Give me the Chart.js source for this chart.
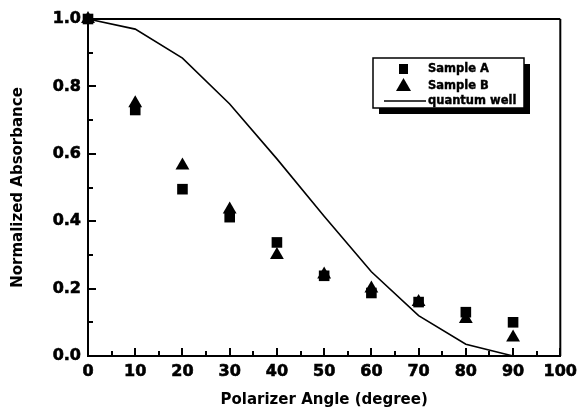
<!DOCTYPE html>
<html>
<head>
<meta charset="utf-8">
<script src="https://cdn.jsdelivr.net/npm/chart.js@4.4.1/dist/chart.umd.min.js"></script>
<style>
html,body{margin:0;padding:0;background:#fff;}
#wrap{width:583px;height:413px;}
</style>
</head>
<body>
<div id="wrap"><canvas id="c" width="583" height="413"></canvas></div>
<script>
// ---- data ----
const angles = [0, 10, 20, 30, 40, 50, 60, 70, 80, 90];
const sampleA = [1.0, 0.73, 0.495, 0.412, 0.337, 0.238, 0.187, 0.16, 0.13, 0.10];
const sampleB = [1.0, 0.75, 0.565, 0.435, 0.30, 0.242, 0.20, 0.16, 0.11, 0.055];
const qwAngles = [0, 10, 20, 30, 40, 50, 60, 70, 80, 90];
const qwValues = [1.0, 0.97, 0.884, 0.748, 0.585, 0.415, 0.25, 0.12, 0.035, 0.0];
const seriesNames = ['Sample A', 'Sample B', 'quantum well'];
const xTitle = 'Polarizer Angle (degree)';
const yTitle = 'Normalized Absorbance';

const FONT = '"DejaVu Sans", sans-serif';

function pts(xs, ys) { return xs.map((x, i) => ({x: x, y: ys[i]})); }

const framePlugin = {
  id: 'frame',
  afterDatasetsDraw(chart) {
    const ctx = chart.ctx;
    const a = chart.chartArea;
    const xs = chart.scales.x, ys = chart.scales.y;
    ctx.save();
    ctx.strokeStyle = '#000';
    ctx.lineWidth = 2;
    ctx.beginPath();
    ctx.moveTo(a.left, a.top); ctx.lineTo(a.right, a.top);
    ctx.moveTo(a.right, a.top); ctx.lineTo(a.right, a.bottom);
    ctx.stroke();
    ctx.beginPath();
    for (let v = 0; v <= 100; v += 5) {
      const px = Math.round(xs.getPixelForValue(v));
      const len = (v % 10 === 0) ? 8 : 5;
      ctx.moveTo(px, a.bottom); ctx.lineTo(px, a.bottom - len);
    }
    for (let k = 0; k <= 10; k++) {
      const py = Math.round(ys.getPixelForValue(k / 10));
      const len = (k % 2 === 0) ? 8 : 5;
      ctx.moveTo(a.left, py); ctx.lineTo(a.left + len, py);
    }
    ctx.stroke();

    // legend box with shadow
    const bx = 373, by = 58, bw = 151, bh = 50;
    ctx.fillStyle = '#000';
    ctx.fillRect(bx + 6, by + 6, bw, bh);
    ctx.fillStyle = '#fff';
    ctx.fillRect(bx, by, bw, bh);
    ctx.lineWidth = 1.5;
    ctx.strokeRect(bx, by, bw, bh);
    ctx.fillStyle = '#000';
    ctx.fillRect(399, 64, 9, 10);
    ctx.beginPath();
    ctx.moveTo(403.5, 78); ctx.lineTo(411, 91); ctx.lineTo(396, 91); ctx.closePath();
    ctx.fill();
    ctx.lineWidth = 1.5;
    ctx.beginPath();
    ctx.moveTo(384, 101); ctx.lineTo(426, 101); ctx.stroke();
    ctx.font = 'bold 11.5px ' + FONT;
    ctx.textBaseline = 'middle';
    ctx.textAlign = 'left';
    ctx.lineWidth = 0.4;
    const items = [[seriesNames[0], 69], [seriesNames[1], 86], [seriesNames[2], 101]];
    for (const [t, y] of items) { ctx.fillText(t, 428, y); ctx.strokeText(t, 428, y); }
    ctx.restore();
  }
};

new Chart(document.getElementById('c'), {
  type: 'scatter',
  data: {
    datasets: [
      {
        label: seriesNames[2],
        type: 'line',
        data: pts(qwAngles, qwValues),
        borderColor: '#000',
        borderWidth: 1.6,
        pointRadius: 0,
        tension: 0,
        fill: false,
        clip: false
      },
      {
        label: seriesNames[0],
        data: pts(angles, sampleA),
        pointStyle: 'rect',
        pointRadius: 7.5,
        backgroundColor: '#000',
        borderColor: '#000',
        borderWidth: 0,
        clip: false
      },
      {
        label: seriesNames[1],
        data: pts(angles, sampleB),
        pointStyle: 'triangle',
        pointRadius: 8,
        backgroundColor: '#000',
        borderColor: '#000',
        borderWidth: 0,
        clip: false
      }
    ]
  },
  options: {
    responsive: false,
    animation: false,
    devicePixelRatio: 1,
    layout: { padding: { top: 19, right: 18, left: 0, bottom: 0 } },
    plugins: {
      legend: { display: false },
      tooltip: { enabled: false }
    },
    scales: {
      x: {
        type: 'linear',
        min: 0, max: 100,
        afterFit(s) { s.height = 57; },
        grid: { drawOnChartArea: false, drawTicks: false },
        border: { display: true, color: '#000', width: 2 },
        ticks: {
          stepSize: 10,
          padding: 6,
          color: '#000',
          textStrokeColor: '#000',
          textStrokeWidth: 0.6,
          font: { family: FONT, size: 16, weight: 'bold' }
        },
        title: {
          display: true,
          text: xTitle,
          color: '#000',
          padding: { top: 0, bottom: 4 },
          font: { family: FONT, size: 15, weight: 'bold' }
        }
      },
      y: {
        type: 'linear',
        min: 0, max: 1,
        afterFit(s) { s.width = 88; },
        grid: { drawOnChartArea: false, drawTicks: false },
        border: { display: true, color: '#000', width: 2 },
        ticks: {
          stepSize: 0.2,
          padding: 7,
          color: '#000',
          textStrokeColor: '#000',
          textStrokeWidth: 0.6,
          font: { family: FONT, size: 16, weight: 'bold' },
          callback: v => Number(v).toFixed(1)
        },
        title: {
          display: true,
          text: yTitle,
          color: '#000',
          padding: { top: 9, bottom: 0 },
          font: { family: FONT, size: 15, weight: 'bold' }
        }
      }
    }
  },
  plugins: [framePlugin]
});
</script>
</body>
</html>
